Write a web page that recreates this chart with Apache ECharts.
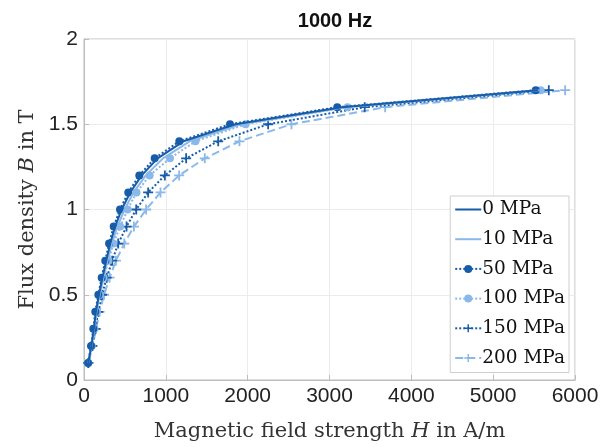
<!DOCTYPE html>
<html>
<head>
<meta charset="utf-8">
<script src="https://cdn.jsdelivr.net/npm/echarts@6/dist/echarts.min.js"></script>
<style>html,body{margin:0;padding:0;background:#fff}#c{width:613px;height:447px}</style>
</head>
<body>
<div id="c"></div>
<script>
const bLevels = [0.1,0.2,0.3,0.4,0.5,0.6,0.7,0.8,0.9,1.0,1.1,1.2,1.3,1.4,1.5,1.6,1.7];
const h0   = [52, 90, 120, 145, 183, 225, 272, 320, 380, 460, 565, 705, 900, 1215, 1850, 3150, 5550];
const h10  = [53, 92, 124, 152, 192, 237, 288, 340, 408, 495, 605, 755, 965, 1290, 1920, 3190, 5570];
const h50  = [50, 86, 114, 138, 175, 216, 260, 306, 363, 440, 541, 676, 864, 1165, 1784, 3095, 5520];
const h100 = [52, 95, 128, 158, 196, 240, 298, 360, 442, 533, 642, 802, 1050, 1362, 1975, 3220, 5580];
const h150 = [52, 100, 138, 175, 220, 278, 345, 418, 520, 638, 784, 988, 1248, 1640, 2250, 3430, 5680];
const h200 = [55, 105, 148, 190, 245, 313, 390, 492, 610, 759, 935, 1163, 1476, 1900, 2535, 3680, 5880];
const seriesNames = ['0 MPa','10 MPa','50 MPa','100 MPa','150 MPa','200 MPa'];
const xTicks = [0,1000,2000,3000,4000,5000,6000];
const yTicks = [0,0.5,1,1.5,2];

const dark = '#175ca8';
const light = '#8ab8e8';
const plus = 'path://M-1,-0.18H-0.18V-1H0.18V-0.18H1V0.18H0.18V1H-0.18V0.18H-1Z';

function pairs(h){ return h.map((v,i)=>[v,bLevels[i]]); }

const styles = [
  {h:h0, color:dark, type:'solid', symbol:'none'},
  {h:h10, color:light, type:'solid', symbol:'none'},
  {h:h50, color:dark, type:'dotted', symbol:'circle', size:8},
  {h:h100, color:light, type:'dotted', symbol:'circle', size:8},
  {h:h150, color:dark, type:'dotted', symbol:plus, size:10},
  {h:h200, color:light, type:'dashed', symbol:plus, size:10}
];

const series = styles.map((s,i)=>({
  name: seriesNames[i],
  type:'line',
  data: pairs(s.h),
  symbol: s.symbol,
  symbolSize: s.size || 0,
  showSymbol: s.symbol !== 'none',
  lineStyle:{color:s.color, width:2, type:s.type},
  itemStyle:{color:s.color},
  emphasis:{disabled:true},
  z: 10 - i
}));

const legendData = seriesNames.map((n,i)=> styles[i].symbol === 'none'
  ? {name:n, itemStyle:{opacity:0}}
  : {name:n});

const serif = 'DejaVu Serif, Liberation Serif, serif';
const sans = 'Liberation Sans, Arial, sans-serif';

const chart = echarts.init(document.getElementById('c'), null, {renderer:'canvas'});
chart.setOption({
  animation:false,
  backgroundColor:'#fff',
  title:{
    text:'1000 Hz', left:330, top:6, textAlign:'center',
    textStyle:{fontFamily:sans, fontSize:20, fontWeight:'bold', color:'#111'}
  },
  grid:{left:84, right:38, top:39, bottom:66, show:true, borderColor:'#bdbdbd', borderWidth:1, backgroundColor:'transparent'},
  legend:{
    orient:'vertical', right:44, top:196,
    backgroundColor:'#fff', borderColor:'#cfcfcf', borderWidth:1,
    padding:[4,4,5,4], itemGap:10.7, itemWidth:26, itemHeight:10,
    textStyle:{fontFamily:serif, fontSize:18.5, color:'#111', padding:[0,0,0,-4]},
    data: legendData
  },
  xAxis:{
    type:'value', min:0, max:6000, interval:1000,
    axisLine:{show:true, lineStyle:{color:'#bdbdbd'}},
    axisTick:{show:true, inside:true, length:5, lineStyle:{color:'#bdbdbd'}},
    splitLine:{show:true, lineStyle:{color:'#ececec', width:1}},
    axisLabel:{fontFamily:sans, fontSize:21, color:'#222', margin:6,
      formatter:(v)=> xTicks.includes(v) ? String(v) : ''},
    name:'{n|Magnetic field strength }{i|H}{n| in A/m}',
    nameLocation:'middle', nameGap:41,
    nameTextStyle:{rich:{
      n:{fontFamily:serif, fontSize:21, color:'#333'},
      i:{fontFamily:serif, fontSize:21, fontStyle:'italic', color:'#333'}
    }}
  },
  yAxis:{
    type:'value', min:0, max:2, interval:0.5,
    axisLine:{show:true, lineStyle:{color:'#bdbdbd'}},
    axisTick:{show:true, inside:true, length:5, lineStyle:{color:'#bdbdbd'}},
    splitLine:{show:true, lineStyle:{color:'#ececec', width:1}},
    axisLabel:{fontFamily:sans, fontSize:21, color:'#222', margin:6,
      formatter:(v)=> yTicks.includes(v) ? String(v) : ''},
    name:'{n|Flux density }{i|B}{n| in T}',
    nameLocation:'middle', nameGap:46, nameRotate:90,
    nameTextStyle:{rich:{
      n:{fontFamily:serif, fontSize:21, color:'#333'},
      i:{fontFamily:serif, fontSize:21, fontStyle:'italic', color:'#333'}
    }}
  },
  series: series
});
</script>
</body>
</html>
